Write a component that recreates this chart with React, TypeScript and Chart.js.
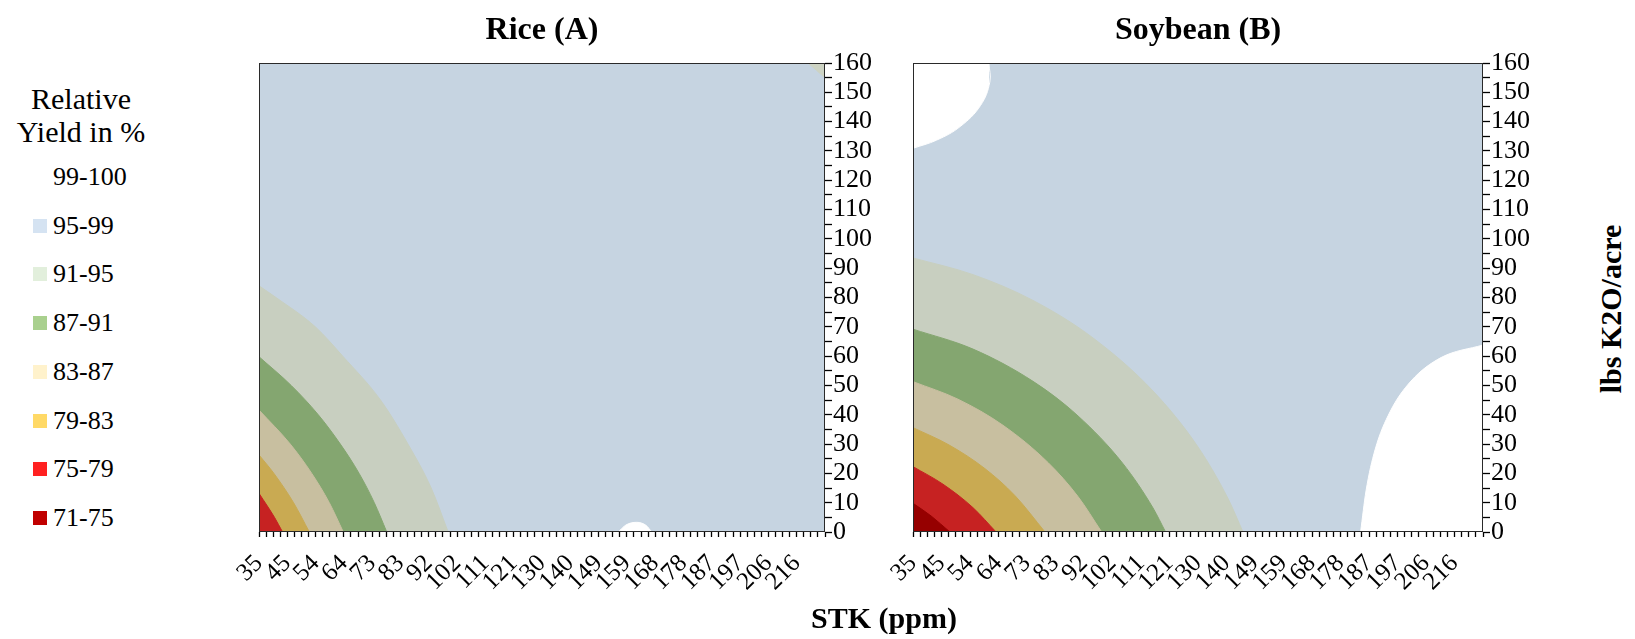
import React, { useEffect, useRef } from 'react';
import { Chart, registerables } from 'chart.js';

Chart.register(...registerables);

const FONT = '"Liberation Serif", "Times New Roman", Times, serif';

// ---------- axes ----------
const STK_MIN = 35;
const STK_MAX = 225;
const STK_TICK_STEP = 2.375;
const STK_LABEL_EVERY = 4;
const stkTickLabels = ['35', '45', '54', '64', '73', '83', '92', '102', '111', '121', '130', '140', '149', '159', '168', '178', '187', '197', '206', '216'];

const K2O_MIN = 0;
const K2O_MAX = 160;
const K2O_TICK_STEP = 5;
const k2oTickLabels = ['0', '10', '20', '30', '40', '50', '60', '70', '80', '90', '100', '110', '120', '130', '140', '150', '160'];

// ---------- legend ----------
const legendTitle = ['Relative', 'Yield in %'];
const legendLabels = ['99-100', '95-99', '91-95', '87-91', '83-87', '79-83', '75-79', '71-75'];
const legendSwatches = ['', '#d5e3f2', '#e2efdc', '#a9d08e', '#fff2cc', '#ffd966', '#ff2121', '#c00000'];

// ---------- plotted band colours ----------
const band99 = '#ffffff';
const band95 = '#c6d4e1';
const band91 = '#c8cfc0';
const band87 = '#84a670';
const band83 = '#c8bfa0';
const band79 = '#c9aa52';
const band75 = '#c62222';
const band71 = '#960000';

type XY = [number, number]; // [STK ppm, lbs K2O/acre]

// ---------- Rice (A) contour lines ----------
const rice95Area: XY[] = [[35, 160], [225, 160]];
const riceIso95: XY[] = [[35, 84], [40.7, 80], [53.9, 70], [63.1, 60], [75.8, 45], [85, 30], [92.8, 15], [98.5, 0]];
const riceIso91: XY[] = [[35, 59.8], [45.8, 50], [54.9, 40], [62.3, 30], [68.6, 20], [73.7, 10], [77.9, 0]];
const riceIso87: XY[] = [[35, 41.6], [45.5, 30], [52.7, 20], [58.6, 10], [63.3, 0]];
const riceIso83: XY[] = [[35, 26.3], [40, 20], [46.6, 10], [51.9, 0]];
const riceIso79: XY[] = [[35, 13.2], [40.2, 5], [42.9, 0]];
const riceTopRight91: XY[] = [[219.3, 160], [225, 155]];
const riceBump99: XY[] = [[155.6, 0], [158.2, 2.4], [161.8, 3.3], [165, 2.2], [166.8, 0]];

// ---------- Soybean (B) contour lines ----------
const soy95Area: XY[] = [[35, 160], [225, 160]];
const soyIso95: XY[] = [[35, 93.5], [55, 87.8], [75, 79], [95, 66.2], [115, 48.1], [130, 29], [140, 11.4], [145, 0]];
const soyIso91: XY[] = [[35, 69.2], [55, 62.4], [75, 51.4], [90, 39.6], [105, 23.3], [115, 8.2], [119.2, 0]];
const soyIso87: XY[] = [[35, 51.3], [50, 45.3], [65, 36.4], [80, 23.7], [90, 12.1], [97.9, 0]];
const soyIso83: XY[] = [[35, 35.6], [47, 29.7], [59, 21.6], [69, 12.4], [79, 0]];
const soyIso79: XY[] = [[35, 22.3], [45, 16.3], [55, 8.3], [62.7, 0]];
const soyIso75: XY[] = [[35, 9.8], [41, 5.5], [47.3, 0]];
const soyTopLeft99: XY[] = [[35, 130.9], [42.9, 133.7], [50.7, 138.3], [57.5, 145.5], [60.6, 153.5], [60.3, 160]];
const soyBottomRight99: XY[] = [[184.2, 0], [186, 14], [189, 28], [194, 41], [201, 51.5], [211, 59.5], [225, 63.8]];

interface Layer { pts: XY[]; color: string; fill: 'origin' | 'end'; mono?: boolean }

// bottom -> top
const riceLayers: Layer[] = [
  { pts: rice95Area, color: band95, fill: 'origin' },
  { pts: riceIso95, color: band91, fill: 'origin', mono: true },
  { pts: riceIso91, color: band87, fill: 'origin', mono: true },
  { pts: riceIso87, color: band83, fill: 'origin', mono: true },
  { pts: riceIso83, color: band79, fill: 'origin', mono: true },
  { pts: riceIso79, color: band75, fill: 'origin', mono: true },
  { pts: riceTopRight91, color: '#cdd3c3', fill: 'end' },
  { pts: riceBump99, color: band99, fill: 'origin', mono: true },
];

const soyLayers: Layer[] = [
  { pts: soy95Area, color: band95, fill: 'origin' },
  { pts: soyIso95, color: band91, fill: 'origin', mono: true },
  { pts: soyIso91, color: band87, fill: 'origin', mono: true },
  { pts: soyIso87, color: band83, fill: 'origin', mono: true },
  { pts: soyIso83, color: band79, fill: 'origin', mono: true },
  { pts: soyIso79, color: band75, fill: 'origin', mono: true },
  { pts: soyIso75, color: band71, fill: 'origin', mono: true },
  { pts: soyTopLeft99, color: band99, fill: 'end' },
  { pts: soyBottomRight99, color: band99, fill: 'origin', mono: true },
];

// ---------- layout ----------
const PAD_LEFT = 30;
const PAD_TOP = 18;
const Y_AXIS_W = 60;
const X_AXIS_H = 90;
const PLOT_TOP = 63;
const PLOT_H = 469;

const stkTicks = Array.from({ length: Math.round((STK_MAX - STK_MIN) / STK_TICK_STEP) + 1 }, (_, i) => STK_MIN + i * STK_TICK_STEP);
const k2oTicks = Array.from({ length: (K2O_MAX - K2O_MIN) / K2O_TICK_STEP + 1 }, (_, i) => K2O_MIN + i * K2O_TICK_STEP);

const framePlugin = {
  id: 'frame',
  afterDraw(chart: any) {
    const { ctx, chartArea: a } = chart;
    ctx.save();
    ctx.strokeStyle = '#2a2a2a';
    ctx.lineWidth = 1;
    ctx.strokeRect(Math.round(a.left) + 0.5, Math.round(a.top) + 0.5, Math.round(a.right - a.left) - 1, Math.round(a.bottom - a.top) - 1);
    ctx.restore();
  },
};

function buildDatasets(layers: Layer[]) {
  const n = layers.length;
  return layers.map((l, i) => ({
    type: 'line' as const,
    data: l.pts.map(([x, y]) => ({ x, y })),
    borderColor: l.color,
    backgroundColor: l.color,
    borderWidth: 1,
    pointRadius: 0,
    pointHoverRadius: 0,
    fill: l.fill,
    tension: 0.4,
    cubicInterpolationMode: l.mono ? 'monotone' : 'default',
    order: n - i,
  }));
}

function Panel({ left, plotW, layers }: { left: number; plotW: number; layers: Layer[] }) {
  const ref = useRef<HTMLCanvasElement>(null);
  const width = PAD_LEFT + plotW + Y_AXIS_W;
  const height = PAD_TOP + PLOT_H + X_AXIS_H;
  useEffect(() => {
    const chart = new Chart(ref.current!, {
      type: 'line',
      data: { datasets: buildDatasets(layers) as any },
      plugins: [framePlugin],
      options: {
        responsive: false,
        animation: false,
        events: [],
        layout: { padding: { left: PAD_LEFT, top: PAD_TOP, right: 0, bottom: 0 } },
        plugins: { legend: { display: false }, tooltip: { enabled: false }, title: { display: false } },
        scales: {
          x: {
            type: 'linear',
            position: 'bottom',
            min: STK_MIN,
            max: STK_MAX,
            afterBuildTicks: (s: any) => { s.ticks = stkTicks.map((v) => ({ value: v })); },
            afterFit: (s: any) => { s.height = X_AXIS_H; },
            ticks: {
              autoSkip: false,
              maxRotation: 45,
              minRotation: 45,
              padding: 12,
              color: '#000',
              font: { family: FONT, size: 25 },
              callback: (_v: any, i: number) => (i % STK_LABEL_EVERY === 0 ? (stkTickLabels[i / STK_LABEL_EVERY] ?? '') : ''),
            },
            grid: { display: true, drawOnChartArea: false, drawTicks: true, tickLength: 5, tickColor: '#000', tickWidth: 1.3 },
            border: { display: false },
          },
          y: {
            type: 'linear',
            position: 'right',
            min: K2O_MIN,
            max: K2O_MAX,
            afterBuildTicks: (s: any) => { s.ticks = k2oTicks.map((v) => ({ value: v })); },
            afterFit: (s: any) => { s.width = Y_AXIS_W; },
            ticks: {
              autoSkip: false,
              padding: 1,
              color: '#000',
              font: { family: FONT, size: 26 },
              callback: (_v: any, i: number) => (i % 2 === 0 ? (k2oTickLabels[i / 2] ?? '') : ''),
            },
            grid: { display: true, drawOnChartArea: false, drawTicks: true, tickLength: 7, tickColor: '#000', tickWidth: 1.3 },
            border: { display: false },
          },
        },
      } as any,
    });
    return () => chart.destroy();
  }, []);
  return (
    <canvas
      ref={ref}
      width={width}
      height={height}
      style={{ position: 'absolute', left: left - PAD_LEFT, top: PLOT_TOP - PAD_TOP, width, height }}
    />
  );
}

const centered = (cx: number, cy: number, extra: React.CSSProperties = {}): React.CSSProperties => ({
  position: 'absolute',
  left: cx,
  top: cy,
  transform: 'translate(-50%, -50%)',
  whiteSpace: 'nowrap',
  lineHeight: 1,
  fontFamily: FONT,
  color: '#000',
  ...extra,
});

export default function App() {
  return (
    <div style={{ position: 'absolute', left: 0, top: 0, width: 1635, height: 639, background: '#fff', overflow: 'hidden', fontFamily: FONT }}>
      <Panel left={259} plotW={566} layers={riceLayers} />
      <Panel left={913} plotW={570} layers={soyLayers} />

      <div style={centered(542, 28, { fontSize: 32, fontWeight: 'bold' })}>Rice (A)</div>
      <div style={centered(1198, 28, { fontSize: 32, fontWeight: 'bold' })}>Soybean (B)</div>
      <div style={centered(884, 618, { fontSize: 30, fontWeight: 'bold' })}>STK (ppm)</div>
      <div style={centered(1611, 309, { fontSize: 30, fontWeight: 'bold', transform: 'translate(-50%, -50%) rotate(-90deg)' })}>lbs K2O/acre</div>

      <div style={{ position: 'absolute', left: 0, top: 82, width: 162, textAlign: 'center', fontSize: 30, lineHeight: '33px', color: '#000' }}>
        {legendTitle.map((t) => (<div key={t}>{t}</div>))}
      </div>
      {legendLabels.map((lab, i) => {
        const cy = 177 + i * 48.7;
        return (
          <React.Fragment key={lab}>
            {legendSwatches[i] ? (
              <div style={{ position: 'absolute', left: 33, top: cy - 7, width: 14, height: 14, background: legendSwatches[i] }} />
            ) : null}
            <div style={{ position: 'absolute', left: 53, top: cy - 13, fontSize: 26, lineHeight: '26px', color: '#000', whiteSpace: 'nowrap' }}>{lab}</div>
          </React.Fragment>
        );
      })}
    </div>
  );
}
